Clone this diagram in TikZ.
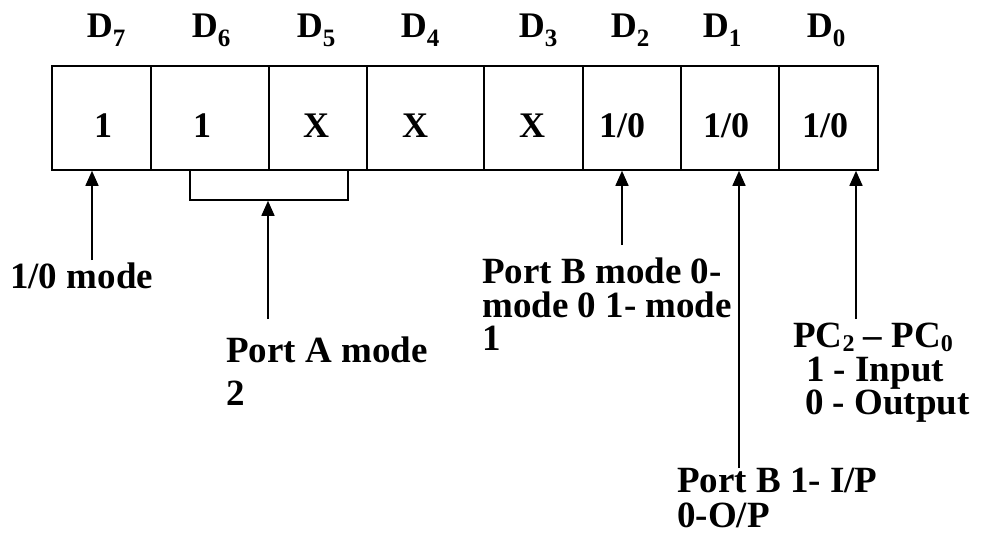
\documentclass[tikz,border=0pt]{standalone}
\usepackage{fontspec}
\setmainfont{Liberation Serif}
\usetikzlibrary{arrows.meta}
\newcommand\mysub[1]{\raisebox{-0.26em}{\fontsize{25}{25}\selectfont #1}}
\newcommand\mysubpc[1]{\raisebox{-0.1em}{\fontsize{24}{24}\selectfont #1}}
\begin{document}
\begin{tikzpicture}[x=1pt,y=-1pt,
  cell/.style={draw, line width=1.6pt, minimum height=104pt, inner sep=0pt},
  bitlab/.style={anchor=base, font=\fontsize{36}{40}\selectfont\bfseries, inner sep=0pt},
  val/.style={anchor=base, font=\fontsize{36}{40}\selectfont\bfseries, inner sep=0pt},
  lab/.style={anchor=north west, align=left, inner sep=0pt, font=\fontsize{37}{33.5}\selectfont\bfseries},
  arr/.style={line width=1.6pt, -{Triangle[length=15pt,width=13pt]}}]
\useasboundingbox (0,0) rectangle (985,546);
% register cells
\node[cell, minimum width=99pt]  (c7) at (101.5,118) {};
\node[cell, minimum width=118pt] (c6) at (210,118) {};
\node[cell, minimum width=98pt]  (c5) at (318,118) {};
\node[cell, minimum width=117pt] (c4) at (425.5,118) {};
\node[cell, minimum width=99pt]  (c3) at (533.5,118) {};
\node[cell, minimum width=98pt]  (c2) at (632,118) {};
\node[cell, minimum width=98pt]  (c1) at (730,118) {};
\node[cell, minimum width=99pt]  (c0) at (828.5,118) {};
% bit names
\node[bitlab] (d7) at (106,37) {D\mysub{7}};
\node[bitlab] (d6) at (211,37) {D\mysub{6}};
\node[bitlab] (d5) at (316,37) {D\mysub{5}};
\node[bitlab] (d4) at (420,37) {D\mysub{4}};
\node[bitlab] (d3) at (538,37) {D\mysub{3}};
\node[bitlab] (d2) at (630,37) {D\mysub{2}};
\node[bitlab] (d1) at (722,37) {D\mysub{1}};
\node[bitlab] (d0) at (826,37) {D\mysub{0}};
% values
\node[val] (v7) at (103,137) {1};
\node[val] (v6) at (202,137) {1};
\node[val] (v5) at (316,137) {X};
\node[val] (v4) at (415,137) {X};
\node[val] (v3) at (532,137) {X};
\node[val] (v2) at (622,137) {1/0};
\node[val] (v1) at (726,137) {1/0};
\node[val] (v0) at (825,137) {1/0};
% bracket under D6-D5
\node[draw, line width=1.6pt, minimum width=158pt, minimum height=30pt, inner sep=0pt] (br) at (269,185) {};
% labels
\node[lab] (l7) at (10,263) {1/0 mode};
\node[lab, font=\fontsize{37}{43}\selectfont\bfseries] (lA) at (226,337) {Port A mode\\2};
\node[lab] (lB) at (482,258) {Port B mode 0-\\mode 0 1- mode\\1};
\node[lab] (lC) at (793,323) {PC\mysubpc{2} – PC\mysubpc{0}\\\hspace*{13pt}1 - Input\\\hspace*{12pt}0 - Output};
\node[lab, font=\fontsize{37}{35}\selectfont\bfseries] (lD) at (677,468) {Port B 1- I/P\\0-O/P};
% arrow tails
\coordinate (t7) at (92,260);
\coordinate (tA) at (268,319);
\coordinate (t2) at (622,245);
\coordinate (t1) at (739,468);
\coordinate (t0) at (856,319);
\draw[arr] (t7) -- (t7 |- c7.south);
\draw[arr] (tA) -- (tA |- br.south);
\draw[arr] (t2) -- (t2 |- c2.south);
\draw[arr] (t1) -- (t1 |- c1.south);
\draw[arr] (t0) -- (t0 |- c0.south);
\end{tikzpicture}
\end{document}
